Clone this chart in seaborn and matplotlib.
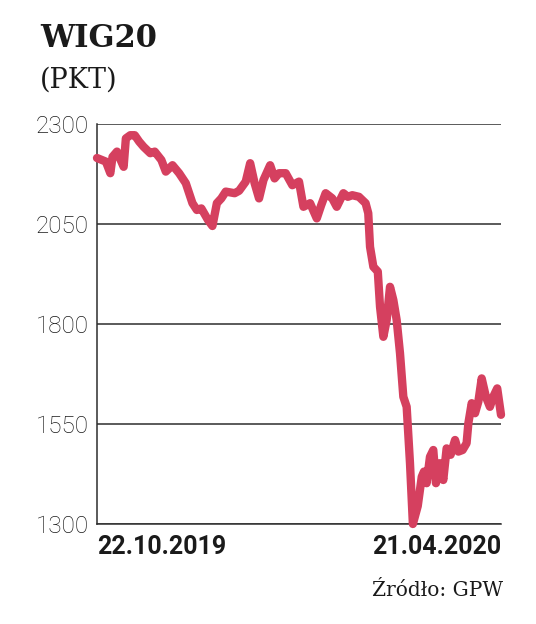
import matplotlib.pyplot as plt
import pandas as pd
import seaborn as sns

# WIG20 closing level; x is calendar days after 22.10.2019
day_offset = [
    0, 4, 6, 7, 9, 12, 13, 15, 17, 19,
    21, 24, 26, 29, 31, 34, 37, 40, 43, 45,
    47, 50, 52, 54, 56, 58, 62, 64, 67, 69,
    71, 73, 75, 78, 80, 82, 85, 88, 91, 93,
    96, 99, 101, 103, 106, 108, 111, 113, 115, 118,
    121, 122.2, 123, 124.5, 126.5, 127.5, 129, 130.5, 132, 133.5,
    135, 136.5, 138, 139.5, 141, 142.3, 144.5, 146.3, 147.3, 148.5,
    150, 151.5, 152.7, 154.5, 156, 157.5, 159.3, 161.3, 162.8, 164.7,
    166.5, 167.3, 168.8, 170.3, 171.8, 173.3, 175.2, 177, 178.5, 180.3,
    182,
]
wig20 = [
    2215, 2206, 2177, 2218, 2231, 2193, 2264, 2272, 2272, 2256,
    2243, 2227, 2231, 2210, 2181, 2197, 2177, 2152, 2102, 2085,
    2089, 2060, 2045, 2102, 2114, 2131, 2127, 2133, 2156, 2202,
    2152, 2114, 2160, 2197, 2164, 2177, 2177, 2147, 2156, 2093,
    2102, 2064, 2097, 2127, 2114, 2093, 2127, 2118, 2122, 2118,
    2102, 2077, 1993, 1943, 1931, 1843, 1768, 1810, 1893, 1860,
    1810, 1727, 1618, 1593, 1452, 1300, 1345, 1418, 1431, 1402,
    1468, 1485, 1402, 1452, 1410, 1489, 1473, 1510, 1481, 1485,
    1502, 1552, 1602, 1577, 1606, 1664, 1618, 1593, 1618, 1639,
    1573,
]

start_date = "2019-10-22"
end_date = "2020-04-21"
y_ticks = [1300, 1550, 1800, 2050, 2300]
title = "WIG20"
unit = "(PKT)"
source = "Źródło: GPW"

LINE_COLOR = "#d5405f"
GRID_COLOR = "#2e2e2e"
TEXT_COLOR = "#1a1a1a"

sns.set_theme(style="white")
plt.rcParams["font.family"] = ["Roboto", "DejaVu Sans"]

df = pd.DataFrame({
    "date": pd.Timestamp(start_date) + pd.to_timedelta(day_offset, unit="D"),
    "value": wig20,
})

W, H = 536, 624
fig = plt.figure(figsize=(W / 100, H / 100), dpi=100)
ax = fig.add_axes([97 / W, 1 - 524 / H, (501 - 97) / W, 400 / H])

sns.lineplot(
    data=df, x="date", y="value", ax=ax,
    color=LINE_COLOR, linewidth=6.0,
    solid_capstyle="round", solid_joinstyle="round",
)
for line in ax.lines:
    line.set_clip_on(False)
    line.set_zorder(3)

ax.set_ylim(y_ticks[0], y_ticks[-1])
ax.set_yticks(y_ticks)
ax.yaxis.grid(True, color=GRID_COLOR, linewidth=1.1)
ax.set_axisbelow(True)

x0, x1 = pd.Timestamp(start_date), pd.Timestamp(end_date)
ax.set_xlim(x0, x1)
ax.set_xticks([x0, x1])
ax.set_xticklabels([d.strftime("%d.%m.%Y") for d in (x0, x1)])
for lbl, ha in zip(ax.get_xticklabels(), ["left", "right"]):
    lbl.set_horizontalalignment(ha)

ax.set_xlabel("")
ax.set_ylabel("")
for side in ["top", "right"]:
    ax.spines[side].set_visible(False)
for side in ["left", "bottom"]:
    ax.spines[side].set_color(GRID_COLOR)
    ax.spines[side].set_linewidth(1.1)
    ax.spines[side].set_zorder(1)

ax.tick_params(axis="y", length=0, pad=6, labelsize=17.5, labelcolor=TEXT_COLOR)
ax.tick_params(axis="x", length=0, pad=8, labelsize=18, labelcolor=TEXT_COLOR)
for lbl in ax.get_yticklabels():
    lbl.set_fontweight("light")
for lbl in ax.get_xticklabels():
    lbl.set_fontweight("bold")

fig.text(40 / W, 1 - 47 / H, title, family="DejaVu Serif", fontweight="bold",
         fontsize=22, color=TEXT_COLOR, va="baseline", ha="left")
fig.text(40 / W, 1 - 88 / H, unit, family="DejaVu Serif",
         fontsize=19.5, color=TEXT_COLOR, va="baseline", ha="left")
fig.text(503 / W, 1 - 596 / H, source, family="DejaVu Serif",
         fontsize=14.5, color=TEXT_COLOR, va="baseline", ha="right")

fig.savefig("out.png", dpi=100, facecolor="white")
